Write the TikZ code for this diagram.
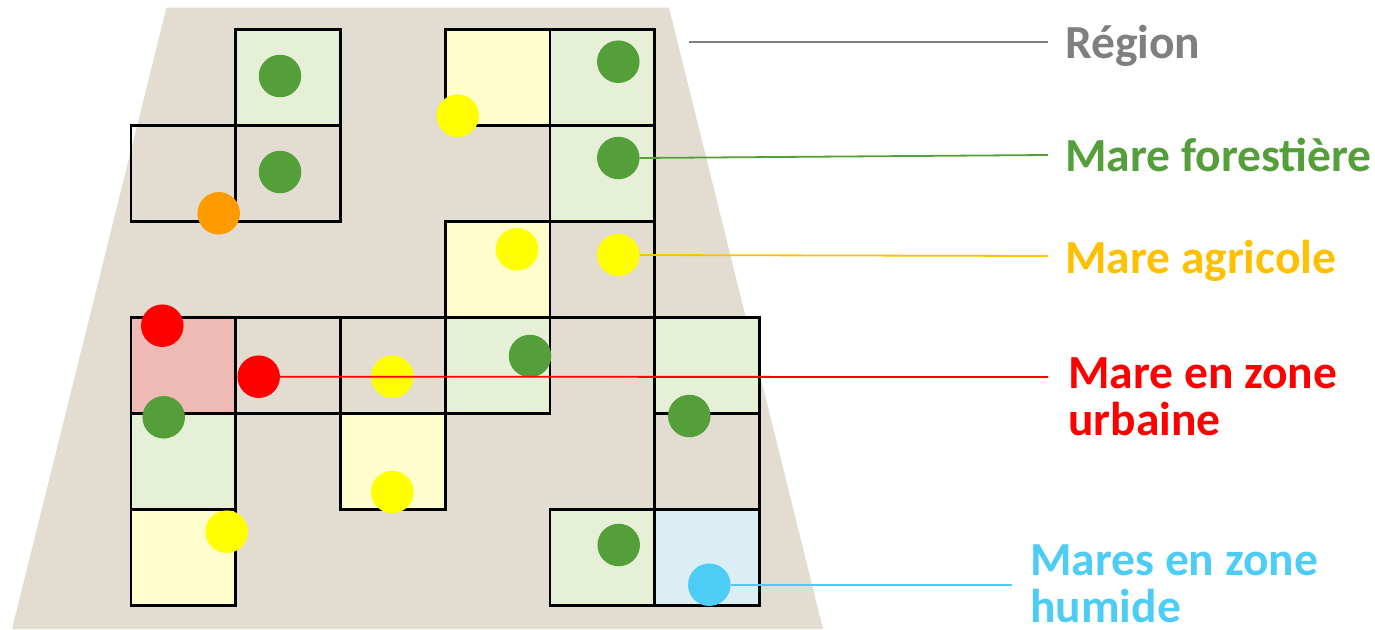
\documentclass[tikz,border=0pt]{standalone}
\usepackage{fontspec}
\setmainfont{Carlito}
\definecolor{beige}{HTML}{E2DCD1}
\definecolor{lgreen}{HTML}{E6F0D6}
\definecolor{lyellow}{HTML}{FFFDCC}
\definecolor{lpink}{HTML}{EFBAB4}
\definecolor{lblue}{HTML}{DAEEF3}
\definecolor{dgreen}{HTML}{559F3B}
\definecolor{dyellow}{HTML}{FFFF00}
\definecolor{dorange}{HTML}{FF9A00}
\definecolor{dred}{HTML}{FF0000}
\definecolor{dblue}{HTML}{4DCCF6}
\definecolor{tgray}{HTML}{7F7F7F}
\definecolor{tagri}{HTML}{FFC000}
\begin{document}
\begin{tikzpicture}[x=1pt,y=-1pt,
  cell/.style={draw=black,line width=2.6pt,minimum width=104.75pt,minimum height=96pt,inner sep=0pt,outer sep=0pt},
  dot/.style={circle,minimum size=42.5pt,inner sep=0pt,outer sep=0pt},
  lbl/.style={font=\bfseries\fontsize{47.5}{47}\selectfont,inner sep=0pt,anchor=base west,align=left},
  conn/.style={line width=1.8pt}]
\useasboundingbox (0,0) rectangle (1375,629);
% region
\fill[beige] (166.5,7.5) -- (669,7.5) -- (823,629) -- (12,629) -- cycle;
% cells
\foreach \i/\j/\c in {1/0/lgreen,3/0/lyellow,4/0/lgreen,
  0/1/none,1/1/none,4/1/lgreen,
  3/2/lyellow,4/2/none,
  0/3/lpink,1/3/none,2/3/none,3/3/lgreen,5/3/lgreen,
  0/4/lgreen,2/4/lyellow,5/4/none,
  0/5/lyellow,4/5/lgreen,5/5/lblue}
  \node[cell,fill=\c] (c\i\j) at ({131+104.75*(\i+0.5)},{29.5+96*(\j+0.5)}) {};
% dots
\node[dot,fill=dgreen] (g10) at (280,76) {};
\node[dot,fill=dgreen] (g11) at (280,172) {};
\node[dot,fill=dorange] (o1) at (218.7,213.3) {};
\node[dot,fill=dyellow] (y30) at (457.7,115.7) {};
\node[dot,fill=dgreen] (g40) at (618.3,61.7) {};
\node[dot,fill=dgreen] (g41) at (618.3,158) {};
\node[dot,fill=dyellow] (y32) at (517,249.3) {};
\node[dot,fill=dyellow] (y42) at (618.3,255) {};
\node[dot,fill=dred] (r1) at (162.3,325.7) {};
\node[dot,fill=dred] (r2) at (258.7,376.7) {};
\node[dot,fill=dgreen] (g04) at (163.7,417.3) {};
\node[dot,fill=dyellow] (y23) at (392.3,376.7) {};
\node[dot,fill=dyellow] (y24) at (392.3,492) {};
\node[dot,fill=dyellow] (y05) at (226.7,531.7) {};
\node[dot,fill=dgreen] (g33) at (530,356) {};
\node[dot,fill=dgreen] (g54) at (689.3,416) {};
\node[dot,fill=dgreen] (g45) at (618.7,545) {};
\node[dot,fill=dblue] (b55) at (709.3,584.7) {};
% labels
\node[lbl,text=tgray] (lRegion) at (1065,58) {Région};
\node[lbl,text=dgreen] (lForest) at (1065,171) {Mare forestière};
\node[lbl,text=tagri] (lAgri) at (1065,273) {Mare agricole};
\node[lbl,text=dred] (lUrb) at (1068,435) {Mare en zone\\urbaine};
\node[lbl,text=dblue,text depth=0pt] (lHum) at (1030,622) {Mares en zone\\humide};
% connector ends
\coordinate (sRegion) at (689,42);
\coordinate (eRegion) at (1048,42);
\coordinate (eForest) at (1048,155);
\coordinate (eAgri) at (1048,256);
\coordinate (eUrb) at (1048,377);
\coordinate (eHum) at (1012,584.7);
% connectors
\draw[conn,tgray] (sRegion) -- (eRegion);
\draw[conn,dgreen] (g41.east) -- (eForest);
\draw[conn,tagri] (y42.east) -- (eAgri);
\draw[conn,dred] (r2.center) -- (eUrb);
\draw[conn,dblue] (b55.east) -- (eHum);
\end{tikzpicture}
\end{document}
